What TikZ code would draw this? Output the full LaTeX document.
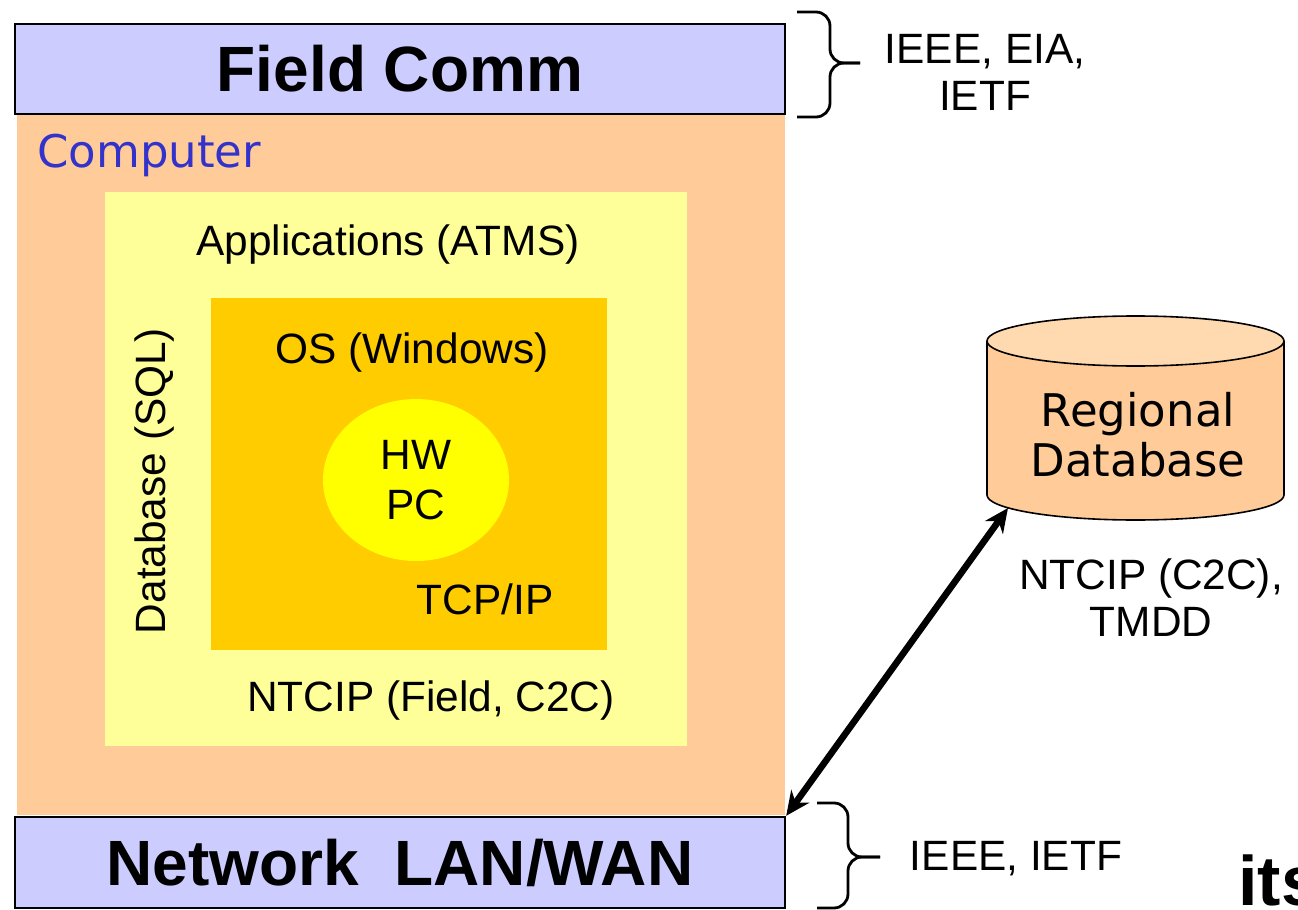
\documentclass[tikz,border=0pt]{standalone}
\usepackage{fontspec}
\setmainfont{Liberation Sans}
\newfontfamily\verdfont{DejaVu Sans}
\usepackage{tikz}
\usetikzlibrary{arrows.meta,shapes.geometric}
\definecolor{lavender}{HTML}{CCCCFF}
\definecolor{peach}{HTML}{FFCC99}
\definecolor{peachtop}{HTML}{FFDAB0}
\definecolor{paleyellow}{HTML}{FFFF99}
\definecolor{amber}{HTML}{FFCC00}
\definecolor{hwyellow}{HTML}{FFFF00}
\definecolor{compblue}{HTML}{3333CC}
\newcommand{\lblfont}{\fontsize{21.2}{23.5}\selectfont}
\newcommand{\barfont}{\fontsize{32}{36}\bfseries\selectfont}

\begin{document}
\begin{tikzpicture}[x=0.5pt,y=-0.5pt]
        \tikzstyle{every node}+=[inner sep=0pt]
        \tikzstyle{bar}=[draw=black,line width=1.2pt,fill=lavender,font=\barfont]
        \tikzstyle{lbl}=[font=\lblfont,align=center]
        \tikzstyle{stdbrace}=[line width=1.4pt,rounded corners=7pt]
        \useasboundingbox (0,0) rectangle (1298,910);
        \node [fill=peach,minimum width=384pt,minimum height=350.5pt] (comp) at (401,464.5) {};
        \node [font=\verdfont\fontsize{22.5}{25}\selectfont,text=compblue,anchor=west] (comptext) at (37,155) {Computer};
        \node [fill=paleyellow,minimum width=291pt,minimum height=277pt] (apps) at (396,469) {};
        \node [lbl] (appstext) at (388,245) {Applications (ATMS)};
        \node [fill=amber,minimum width=198pt,minimum height=176pt] (os) at (409,474) {};
        \node [lbl] (ostext) at (412,353) {OS (Windows)};
        \node [ellipse,fill=hwyellow,minimum width=93pt,minimum height=81pt,lbl,font=\fontsize{21.2}{25}\selectfont] (hw) at (416,480) {HW\\PC};
        \node [lbl] (tcp) at (485,599) {TCP/IP};
        \node [lbl] (ntcipfield) at (431,701) {NTCIP (Field, C2C)};
        \node [lbl,rotate=90] (sql) at (155,481) {Database (SQL)};
        \node [bar,minimum width=385pt,minimum height=45pt] (field) at (400,69) {Field Comm};
        \node [bar,minimum width=385pt,minimum height=45.5pt] (net) at (400,862.5) {Network\ \ LAN/WAN};
        \draw [stdbrace] (797,12) -- (830,12) -- (830,63) -- (860,63);
        \draw [stdbrace] (860,63) -- (830,63) -- (830,117) -- (797,117);
        \node [lbl] (fieldstd) at (985,72) {IEEE, EIA,\\IETF};
        \draw [stdbrace] (817,803) -- (848,803) -- (848,857) -- (880,857);
        \draw [stdbrace] (880,857) -- (848,857) -- (848,908) -- (817,908);
        \node [lbl] (netstd) at (1016,859) {IEEE, IETF};
        \fill [peach] (987,341) -- (987,495) arc [start angle=180,end angle=360,x radius=74.25pt,y radius=12.5pt] -- (1284,341) -- cycle;
        \draw [line width=0.8pt] (987,341) -- (987,495) arc [start angle=180,end angle=360,x radius=74.25pt,y radius=12.5pt] -- (1284,341);
        \draw [line width=0.8pt,fill=peachtop] (1135.5,341) ellipse [x radius=74.25pt,y radius=12.5pt];
        \node [font=\verdfont\fontsize{22.5}{25}\selectfont,align=center] (regdb) at (1138,435) {Regional\\Database};
        \node [lbl] (c2c) at (1151,598) {NTCIP (C2C),\\TMDD};
        \node [font=\fontsize{35}{40}\bfseries\selectfont,anchor=west] (its) at (1238,880) {its};
        \coordinate (dbfoot) at (1008,508);
        \draw [line width=3.3pt,{Stealth[length=12pt,width=11pt]}-{Stealth[length=12pt,width=11pt]}] (net.north east) -- (dbfoot);
\end{tikzpicture}
\end{document}
